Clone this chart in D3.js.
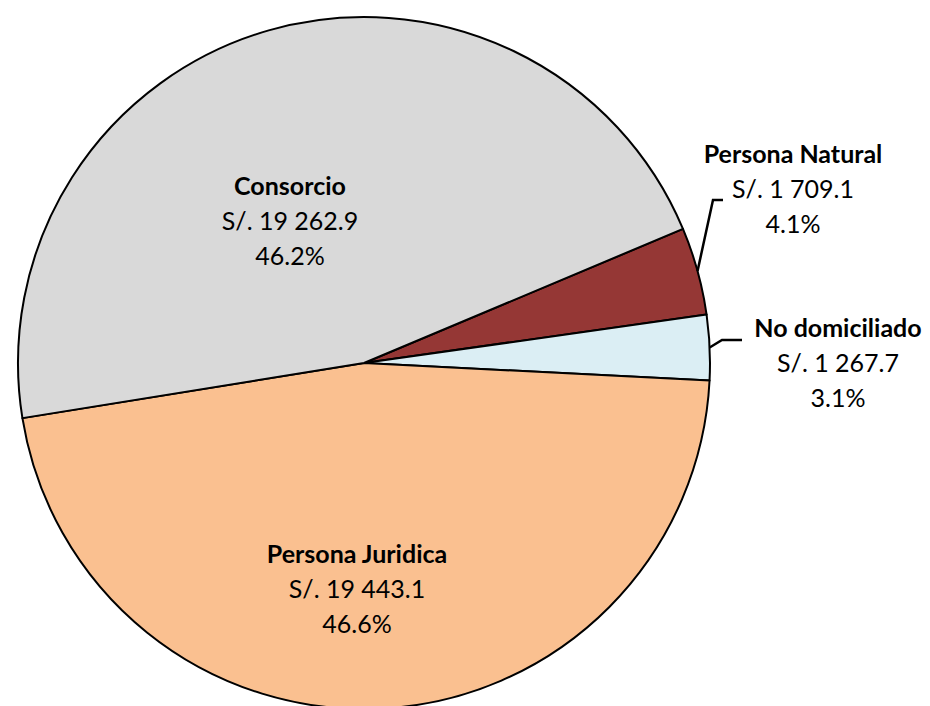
<!DOCTYPE html>
<html>
<head>
<meta charset="utf-8">
<script src="https://cdn.jsdelivr.net/npm/d3@7"></script>
<style>
  body { margin: 0; background: #fff; }
  text { font-family: Lato, "Open Sans", sans-serif; fill: #000; }
</style>
</head>
<body>
<div id="chart"></div>
<script>
const width = 930;
const height = 706;

// slice data, in clockwise draw order
const categories = ["Persona Natural", "No domiciliado", "Persona Juridica", "Consorcio"];
const amounts = [1709.1, 1267.7, 19443.1, 19262.9];
const amountLabels = ["S/. 1 709.1", "S/. 1 267.7", "S/. 19 443.1", "S/. 19 262.9"];
const pctLabels = ["4.1%", "3.1%", "46.6%", "46.2%"];
const colors = ["#953735", "#dbeef4", "#fac090", "#d9d9d9"];

const cx = 364, cy = 363, radius = 346;
const startDeg = 67.2;

const svg = d3.select("#chart").append("svg")
    .attr("width", width)
    .attr("height", height);

const g = svg.append("g").attr("transform", "translate(" + cx + "," + cy + ")");

const pie = d3.pie()
    .sort(null)
    .value(function(d) { return d.value; })
    .startAngle(startDeg * Math.PI / 180)
    .endAngle((startDeg + 360) * Math.PI / 180);

const data = categories.map(function(c, i) {
    return { name: c, value: amounts[i], amt: amountLabels[i], pct: pctLabels[i], color: colors[i] };
});
const arcs = pie(data);
const arc = d3.arc().innerRadius(0).outerRadius(radius);

g.selectAll("path.slice")
    .data(arcs)
    .join("path")
    .attr("class", "slice")
    .attr("d", arc)
    .attr("fill", function(d) { return d.data.color; })
    .attr("stroke", "#000")
    .attr("stroke-width", 2)
    .attr("stroke-linejoin", "round");

// label placement (relative to pie center); the two small slices get leader lines
const labelPos = [
    { x: 429, y: -200, leader: [[0, 0], [349, -163], [359, -163]] },
    { x: 474, y: -26, leader: [[0, 0], [358, -23], [378, -23]] },
    { x: -7, y: 200 },
    { x: -74, y: -168 }
];
const lineGap = 35;

function midPoint(d) {
    const a = (d.startAngle + d.endAngle) / 2;
    return [radius * Math.sin(a), -radius * Math.cos(a)];
}

arcs.forEach(function(d, i) {
    const p = labelPos[i];
    if (p.leader) {
        const m = midPoint(d);
        const pts = [m, p.leader[1], p.leader[2]];
        g.append("path")
            .attr("d", d3.line()(pts))
            .attr("fill", "none")
            .attr("stroke", "#000")
            .attr("stroke-width", 2.5);
    }
    const t = g.append("text")
        .attr("text-anchor", "middle")
        .attr("font-size", 25);
    t.append("tspan").attr("x", p.x).attr("y", p.y)
        .attr("font-weight", "bold").text(d.data.name);
    t.append("tspan").attr("x", p.x).attr("y", p.y + lineGap).text(d.data.amt);
    t.append("tspan").attr("x", p.x).attr("y", p.y + 2 * lineGap).text(d.data.pct);
});
</script>
</body>
</html>
